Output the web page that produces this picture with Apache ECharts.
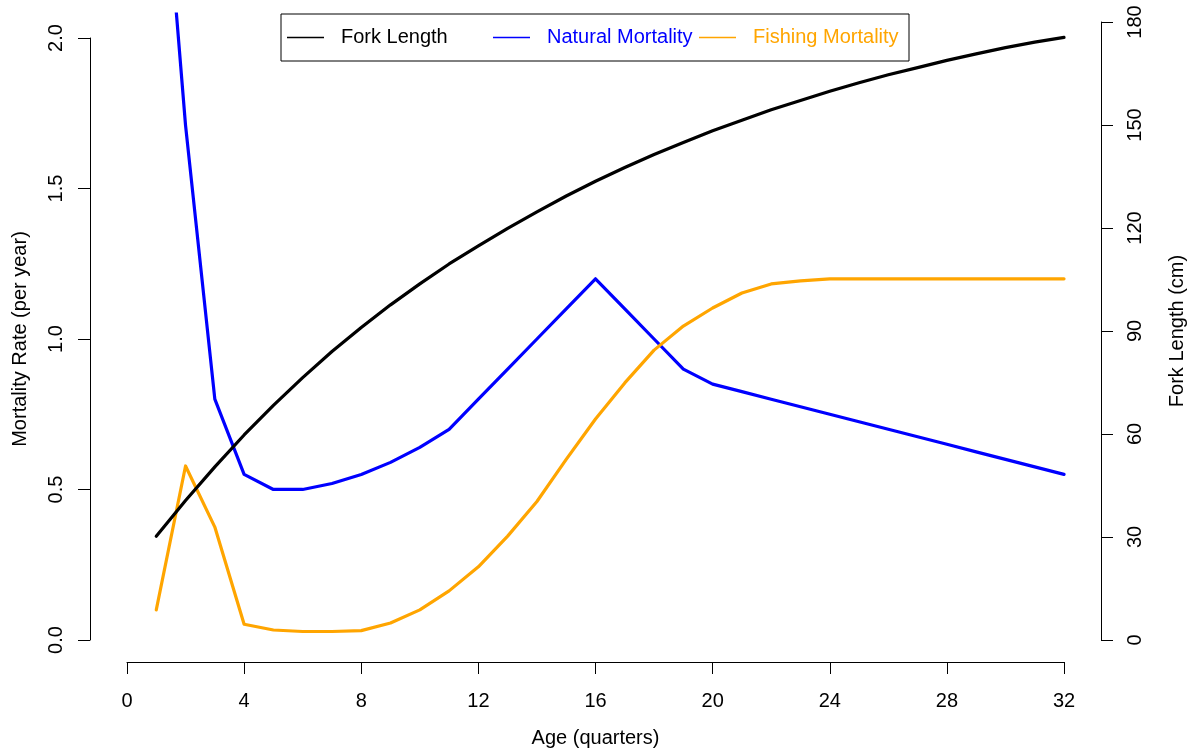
<!DOCTYPE html>
<html>
<head>
<meta charset="utf-8">
<title>Growth and mortality by age</title>
<script src="https://cdn.jsdelivr.net/npm/echarts@6/dist/echarts.min.js"></script>
<style>
  html, body { margin: 0; padding: 0; background: #ffffff; }
  #chart { width: 1192px; height: 749px; }
</style>
</head>
<body>
<div id="chart"></div>
<script>
// Age in quarters
const ages = [1, 2, 3, 4, 5, 6, 7, 8, 9, 10, 11, 12, 13, 14, 15, 16,
              17, 18, 19, 20, 21, 22, 23, 24, 25, 26, 27, 28, 29, 30, 31, 32];

// Fork length at age (cm)
const forkLength = [30.2, 40.6, 50.4, 59.7, 68.3, 76.4, 84.0, 91.0, 97.6, 103.7, 109.5, 114.8,
                    119.9, 124.7, 129.3, 133.6, 137.6, 141.4, 144.9, 148.3, 151.4, 154.4, 157.1, 159.8,
                    162.3, 164.6, 166.7, 168.8, 170.7, 172.5, 174.1, 175.5];

// Natural mortality rate (per year)
const naturalMortality = [2.9, 1.71, 0.80, 0.55, 0.50, 0.50, 0.52, 0.55, 0.59, 0.64, 0.70, 0.80,
                          0.90, 1.00, 1.10, 1.20, 1.10, 1.00, 0.90, 0.85, 0.825, 0.80, 0.775, 0.75,
                          0.725, 0.70, 0.675, 0.65, 0.625, 0.60, 0.575, 0.55];

// Fishing mortality rate (per year)
const fishingMortality = [0.10, 0.578, 0.375, 0.052, 0.033, 0.028, 0.028, 0.031, 0.056, 0.10, 0.163, 0.243,
                          0.345, 0.46, 0.60, 0.734, 0.854, 0.963, 1.043, 1.103, 1.153, 1.183, 1.193, 1.20,
                          1.20, 1.20, 1.20, 1.20, 1.20, 1.20, 1.20, 1.20];

// Axis ranges and tick spacing
const ageTicks = { min: 0, max: 32, interval: 4 };
const rateTicks = { min: 0, max: 2, interval: 0.5 };
const lengthTicks = { min: 0, max: 180, interval: 30 };
const lengthLimit = 175.3;   // top of the length scale used for the data panel

const FONT = "'Liberation Sans', Arial, Helvetica, sans-serif";
const pad = 0.04;            // panel extends 4% beyond each data limit

const pairs = (ys) => ages.map((a, i) => [a, ys[i]]);

const axisText = { color: '#000', fontFamily: FONT, fontSize: 20 };
const axisLineStyle = { show: true, onZero: false, lineStyle: { color: '#000', width: 1 } };
const axisTickStyle = { show: true, length: 12, lineStyle: { color: '#000', width: 1 } };

const chart = echarts.init(document.getElementById('chart'), null, { renderer: 'canvas' });

const ageSpan = ageTicks.max - ageTicks.min;
const rateSpan = rateTicks.max - rateTicks.min;

chart.setOption({
  animation: false,
  backgroundColor: '#ffffff',
  textStyle: { fontFamily: FONT },
  grid: [
    // data panel
    { left: 89.5, right: 90.5, top: 14, bottom: 85, outerBoundsMode: 'none', containLabel: false },
    // age axis and mortality axis
    { left: 127, right: 128, top: 38, bottom: 109, outerBoundsMode: 'none', containLabel: false },
    // fork length axis
    { left: 127, right: 91, top: 22, bottom: 109, outerBoundsMode: 'none', containLabel: false }
  ],
  xAxis: [
    { gridIndex: 0, type: 'value', show: false,
      min: ageTicks.min - pad * ageSpan, max: ageTicks.max + pad * ageSpan },
    { gridIndex: 1, type: 'value', position: 'bottom', offset: 22,
      min: ageTicks.min, max: ageTicks.max, interval: ageTicks.interval,
      axisLine: axisLineStyle, axisTick: axisTickStyle, splitLine: { show: false },
      axisLabel: Object.assign({ margin: 29 }, axisText),
      name: 'Age (quarters)', nameLocation: 'middle', nameGap: 66,
      nameTextStyle: axisText },
    { gridIndex: 2, type: 'value', show: false, min: 0, max: 1 }
  ],
  yAxis: [
    { gridIndex: 0, type: 'value', show: false,
      min: rateTicks.min - pad * rateSpan, max: rateTicks.max + pad * rateSpan },
    { gridIndex: 0, type: 'value', show: false,
      min: -pad * lengthLimit, max: (1 + pad) * lengthLimit },
    { gridIndex: 1, type: 'value', position: 'left', offset: 37,
      min: rateTicks.min, max: rateTicks.max, interval: rateTicks.interval,
      axisLine: axisLineStyle, axisTick: axisTickStyle, splitLine: { show: false },
      axisLabel: Object.assign({ margin: 24, rotate: 90, formatter: (v) => v.toFixed(1) }, axisText),
      name: 'Mortality Rate (per year)', nameLocation: 'middle', nameGap: 60, nameRotate: 90,
      nameTextStyle: axisText },
    { gridIndex: 2, type: 'value', position: 'right', offset: 0,
      min: lengthTicks.min, max: lengthTicks.max, interval: lengthTicks.interval,
      axisLine: axisLineStyle, axisTick: axisTickStyle, splitLine: { show: false },
      axisLabel: Object.assign({ margin: 24, rotate: 90 }, axisText),
      name: 'Fork Length (cm)', nameLocation: 'middle', nameGap: 66, nameRotate: 90,
      nameTextStyle: axisText }
  ],
  legend: {
    left: 281, top: 14,
    orient: 'horizontal',
    padding: [13.5, 10, 13.5, 6],
    borderColor: '#000', borderWidth: 1,
    icon: 'rect',
    itemWidth: 37, itemHeight: 1.5, itemGap: 6,
    // equal-width text slots for every entry
    textStyle: {
      fontFamily: FONT, fontSize: 20, padding: [0, 0, 0, 12],
      width: 146, backgroundColor: 'rgba(255,255,255,0)'
    },
    data: [
      { name: 'Fork Length', textStyle: { color: '#000000' } },
      { name: 'Natural Mortality', textStyle: { color: '#0000FF' } },
      { name: 'Fishing Mortality', textStyle: { color: '#FFA500' } }
    ]
  },
  series: [
    { name: 'Natural Mortality', type: 'line', xAxisIndex: 0, yAxisIndex: 0,
      data: pairs(naturalMortality), symbol: 'none', clip: true,
      color: '#0000FF',
      lineStyle: { color: '#0000FF', width: 3.2, join: 'round', cap: 'round' } },
    { name: 'Fishing Mortality', type: 'line', xAxisIndex: 0, yAxisIndex: 0,
      data: pairs(fishingMortality), symbol: 'none', clip: true,
      color: '#FFA500',
      lineStyle: { color: '#FFA500', width: 3.2, join: 'round', cap: 'round' } },
    { name: 'Fork Length', type: 'line', xAxisIndex: 0, yAxisIndex: 1,
      data: pairs(forkLength), symbol: 'none', clip: true,
      color: '#000000',
      lineStyle: { color: '#000000', width: 3.2, join: 'round', cap: 'round' } }
  ]
});
</script>
</body>
</html>
